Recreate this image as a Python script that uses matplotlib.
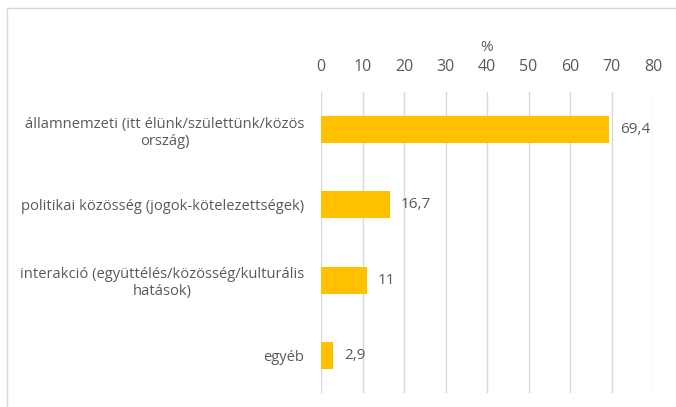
import matplotlib.pyplot as plt
from matplotlib.patches import Rectangle

# Adatok
kategoriak = ["államnemzeti (itt élünk/születtünk/közös\nország)",
              "politikai közösség (jogok-kötelezettségek)",
              "interakció (együttélés/közösség/kulturális\nhatások)",
              "egyéb"]
ertekek = [69.4, 16.7, 11, 2.9]
cimkek = ["69,4", "16,7", "11", "2,9"]

plt.rcParams['font.family'] = ['Open Sans', 'DejaVu Sans']
szurke = "#595959"

fig = plt.figure(figsize=(6.76, 4.07), dpi=100)
ax = fig.add_axes([321 / 676, 1 - 393 / 407, 332 / 676, 301 / 407])

y = list(range(len(kategoriak)))
ax.barh(y, ertekek, height=0.36, color="#FFC000", zorder=3)
for yi, v, c in zip(y, ertekek, cimkek):
    ax.text(v + 2.6, yi, c, va="center", ha="left", fontsize=11, color=szurke)

ax.set_xlim(0, 80)
ax.set_ylim(len(kategoriak) - 0.5, -0.5)
ax.set_xticks(range(0, 81, 10))
ax.set_yticks(y)
ax.set_yticklabels(kategoriak, multialignment="center", fontsize=10.6)
ax.xaxis.tick_top()
ax.xaxis.set_label_position("top")
ax.set_xlabel("%", fontsize=11, color=szurke, labelpad=6)
ax.tick_params(axis="both", length=0, colors=szurke)
ax.tick_params(axis="x", pad=12, labelsize=11.5)
ax.tick_params(axis="y", pad=12)
ax.grid(axis="x", color="#D9D9D9", linewidth=1, zorder=0)
for s in ax.spines.values():
    s.set_visible(False)

# keret
fig.patches.append(Rectangle((7 / 676, -0.1), 1.2, 1 - 8 / 407 + 0.1,
                             transform=fig.transFigure, fill=False,
                             edgecolor="#D9D9D9", linewidth=1))

fig.savefig("out.png", dpi=100)
